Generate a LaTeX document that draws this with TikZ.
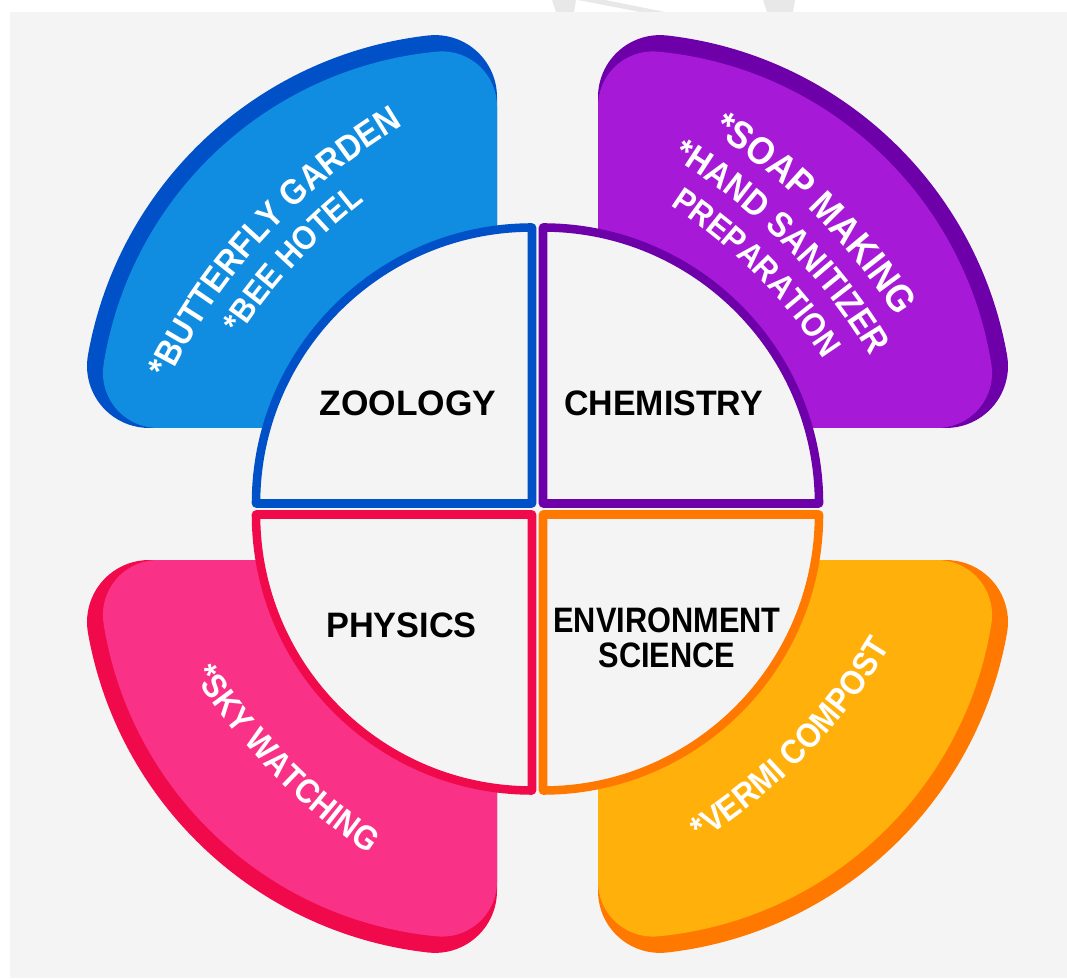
\documentclass[tikz,border=0pt]{standalone}
\usepackage{fontspec}
\usepackage{graphicx}
\setmainfont{Liberation Sans}
\newfontfamily\petalfont[FakeStretch=0.9]{Liberation Sans Bold}
\usetikzlibrary{decorations.text}
\definecolor{bggray}{HTML}{F4F4F4}
\definecolor{wmgray}{HTML}{E8E8E8}
\definecolor{bluedark}{HTML}{0050C8}
\definecolor{bluelight}{HTML}{108CE0}
\definecolor{purpledark}{HTML}{6E00AA}
\definecolor{purplelight}{HTML}{A519D7}
\definecolor{pinkdark}{HTML}{F00A4B}
\definecolor{pinklight}{HTML}{FA3287}
\definecolor{orangedark}{HTML}{FF7800}
\definecolor{orangelight}{HTML}{FFB00A}
\newcommand\petaldark{(0,0) -- (0,330.91) arc[start angle=0,end angle=96.48,radius=62] arc[start angle=96.48,end angle=169.99,radius=390] arc[start angle=169.99,end angle=270,radius=62] -- cycle}
\newcommand\petallight{(0,0) -- (0,321.58) arc[start angle=0,end angle=95.41,radius=55] arc[start angle=95.41,end angle=170.95,radius=373] arc[start angle=170.95,end angle=270,radius=55] -- cycle}
\newcommand\petalat[5]{%
  \begin{scope}[shift={#1},xscale=#2,yscale=#3]
    \fill[#4] \petaldark;
    \fill[#5] \petallight;
  \end{scope}}
\newcommand\arctext[6]{% center, radius, start, end, size, text
  \path[decorate,decoration={text along path,text align=center,text color=white,
    text={|\petalfont\fontsize{#5}{#5}\selectfont|#6}}]
    #1 ++(#3:#2) arc[start angle=#3,end angle=#4,radius=#2];}
\tikzset{
  quad/.style={fill=bggray,line width=6.4pt,line join=round},
  lab/.style={font=\bfseries\fontsize{26.5}{26.25}\selectfont,inner sep=0pt,text=black}
}
\begin{document}
\begin{tikzpicture}[x=0.75pt,y=0.75pt]
\useasboundingbox (0,0) rectangle (1067,978);
\fill[white] (0,0) rectangle (1067,978);
\fill[bggray] (10,0) rectangle (1067,966);
\fill[wmgray] (552,978) -- (576,978) -- (574,966) -- (556,966) -- cycle;
\fill[wmgray] (578,978) -- (605,978) -- (665,966) -- (640,966) -- cycle;
\fill[wmgray] (763,978) -- (795,978) -- (793,966) -- (767,966) -- cycle;
% petals
\petalat{(497,550)}{1}{1}{bluedark}{bluelight}
\petalat{(598,550)}{-1}{1}{purpledark}{purplelight}
\petalat{(497,418)}{1}{-1}{pinkdark}{pinklight}
\petalat{(598,418)}{-1}{-1}{orangedark}{orangelight}
% quadrants
\draw[quad,draw=bluedark] (532,474.5) -- ++(-276,0) arc[start angle=180,end angle=90,radius=276] -- cycle;
\draw[quad,draw=purpledark] (543,474.5) -- ++(0,276) arc[start angle=90,end angle=0,radius=276] -- cycle;
\draw[quad,draw=pinkdark] (532,463.5) -- ++(-276,0) arc[start angle=180,end angle=270,radius=276] -- cycle;
\draw[quad,draw=orangedark] (543,463.5) -- ++(276,0) arc[start angle=0,end angle=-90,radius=276] -- cycle;
% centre labels
\node[lab] (zoo) at (408,575) {ZOOLOGY};
\node[lab] (chem) at (663.6,575) {\scalebox{0.96}[1]{CHEMISTRY}};
\node[lab] (phys) at (401.6,353) {\scalebox{0.97}[1]{PHYSICS}};
\node[lab,align=center] (env) at (667,340.5) {\scalebox{0.87}[1]{ENVIRONMENT}\\\scalebox{0.87}[1]{SCIENCE}};
% petal texts
\arctext{(712,332)}{605}{162.3}{112.3}{26.7}{*BUTTERFLY GARDEN}
\arctext{(712,332)}{565}{162.3}{112.3}{25.1}{*BEE HOTEL}
\arctext{(383,332)}{610}{70}{20}{29}{*SOAP MAKING}
\arctext{(383,332)}{567}{70}{20}{26.7}{*HAND SANITIZER}
\arctext{(383,332)}{526}{70}{20}{25.1}{PREPARATION}
\arctext{(712,636)}{616}{199.4}{249.4}{25.6}{*SKY WATCHING}
\arctext{(383,636)}{592}{-69.25}{-19.25}{25.7}{*VERMI COMPOST}
\end{tikzpicture}
\end{document}
